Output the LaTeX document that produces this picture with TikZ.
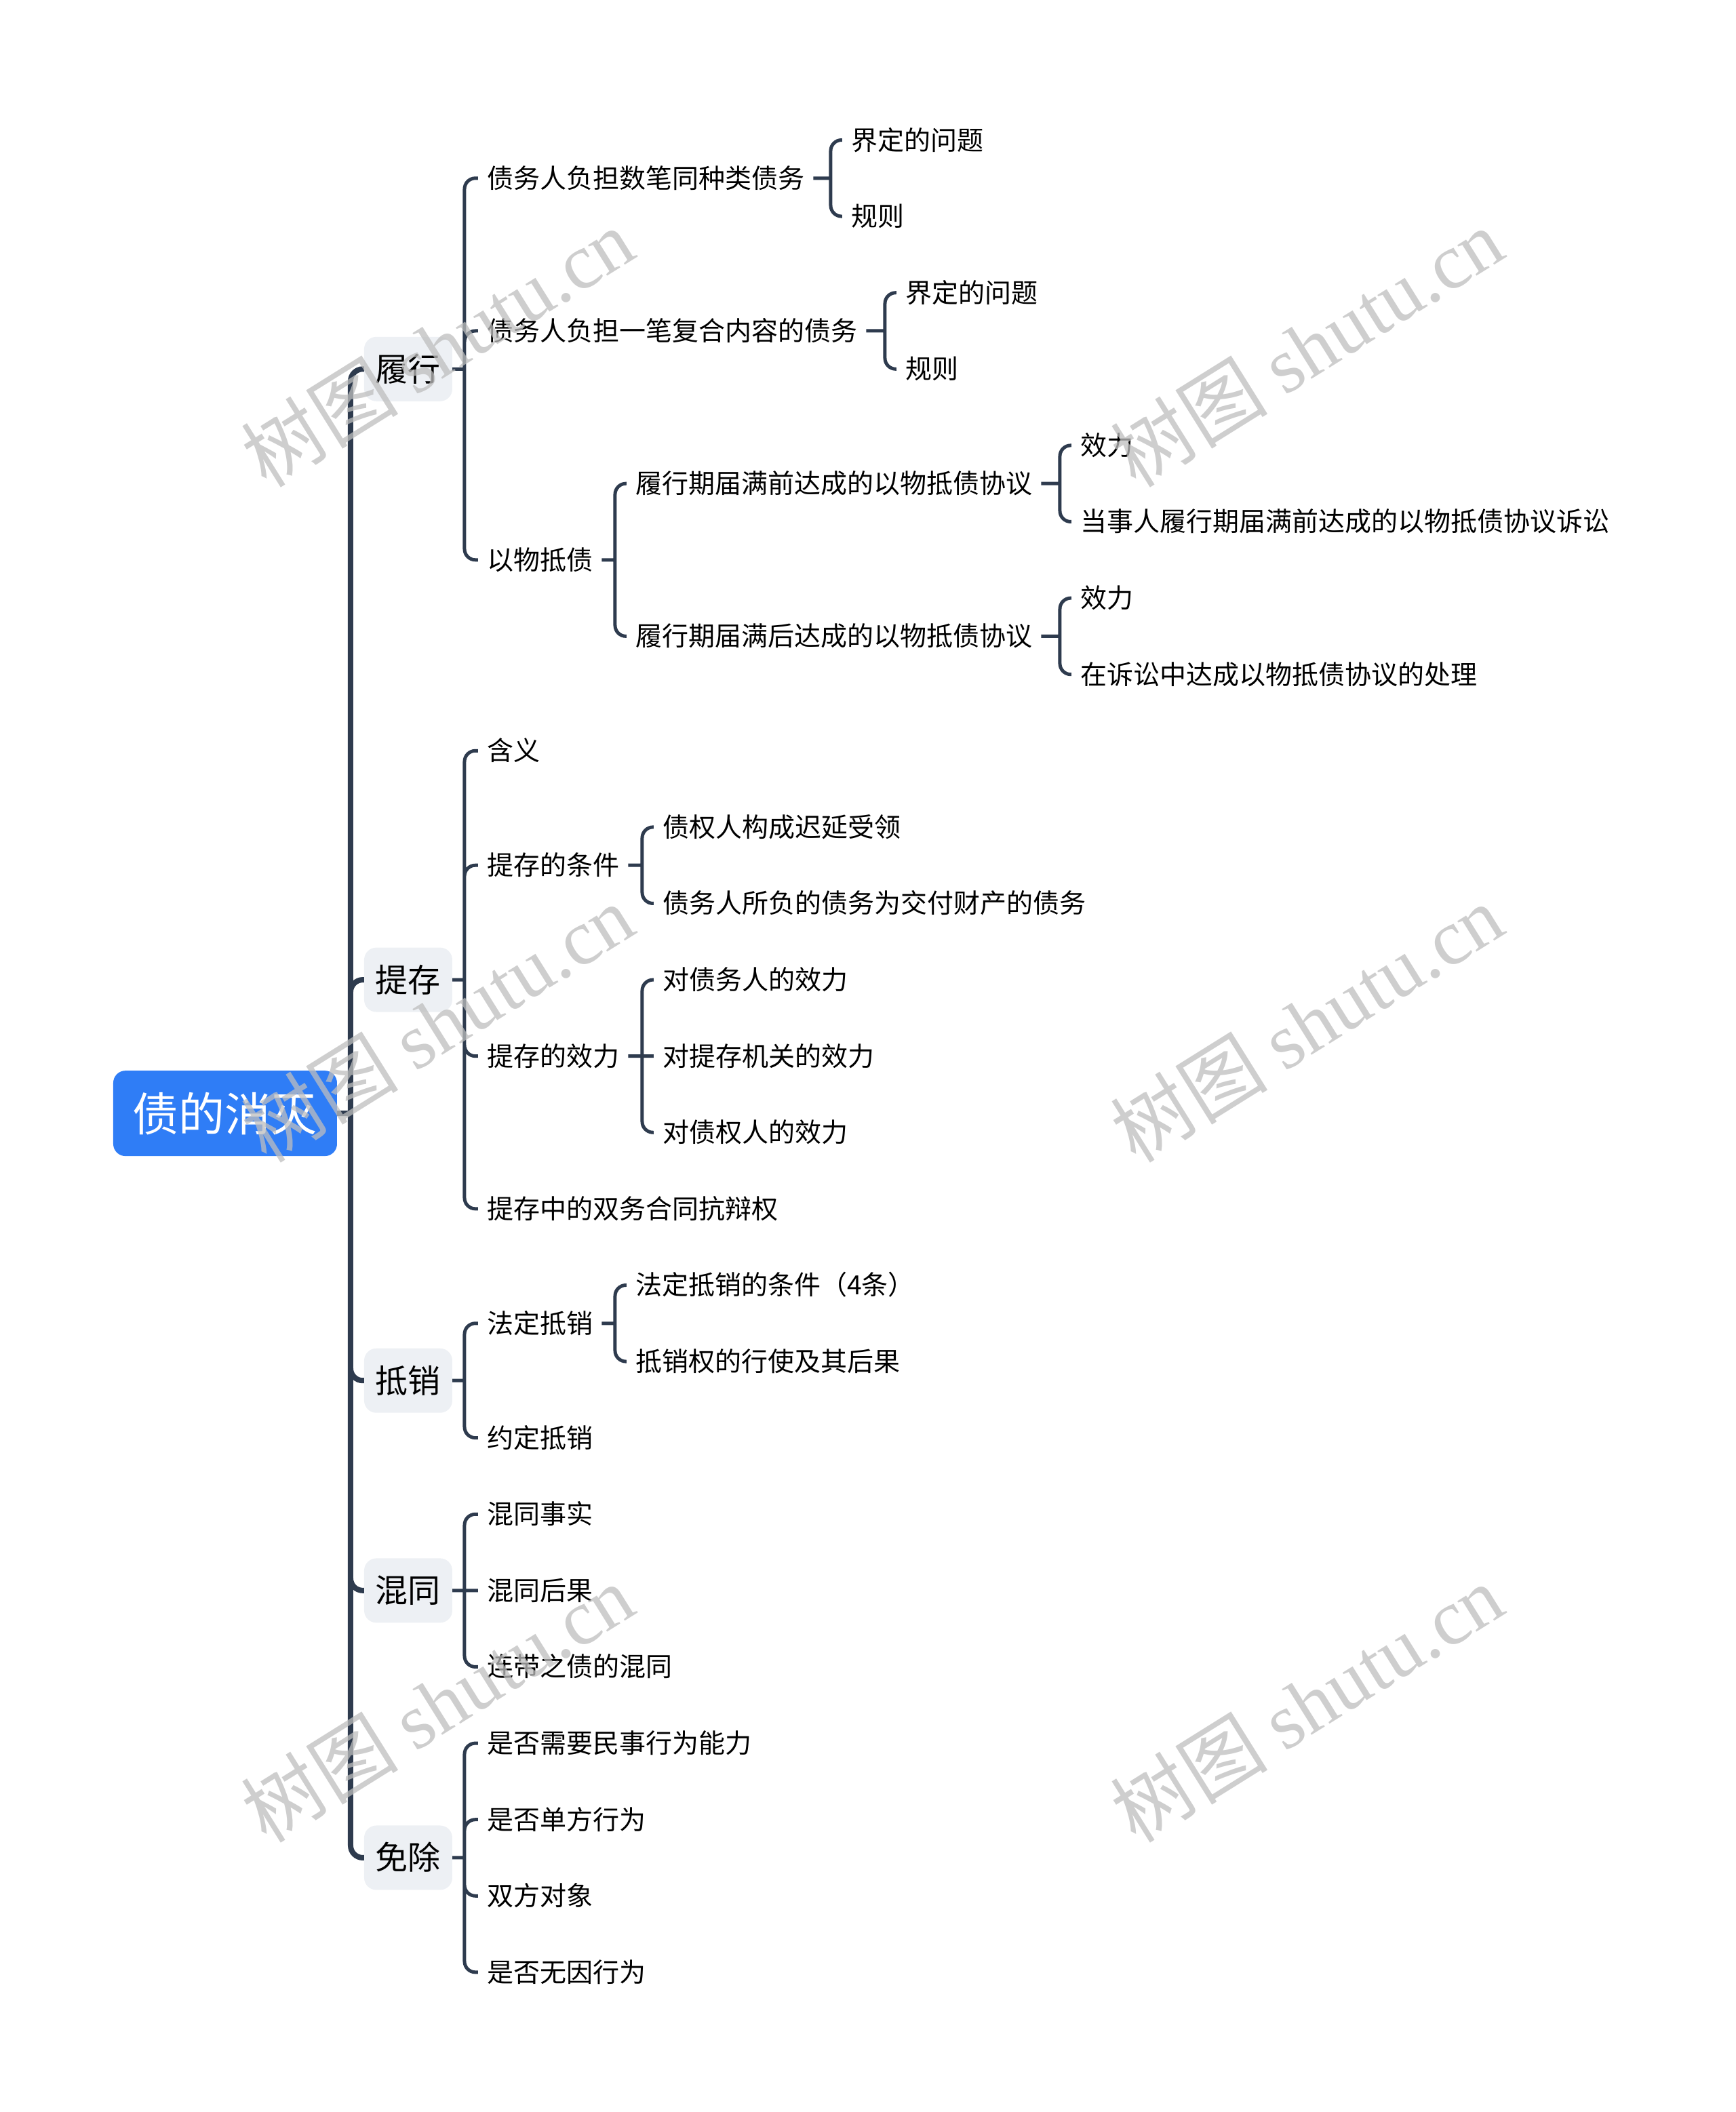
\documentclass[tikz,border=0pt]{standalone}
\usepackage{fontspec}
\setmainfont{Noto Sans CJK SC}
\newfontfamily\wmlatin{Liberation Serif}
\definecolor{rootblue}{HTML}{2F7DF6}
\definecolor{topicgrey}{HTML}{EDF0F4}
\definecolor{linecol}{HTML}{2E3B4E}
\definecolor{wmgrey}{RGB}{190,190,190}
\begin{document}
\begin{tikzpicture}[x=1pt,y=-112.6pt,
    root/.style={fill=rootblue, text=white, rounded corners=18pt, minimum width=330pt, minimum height=126pt, inner sep=0pt, text height=60pt, text depth=8pt, font=\fontsize{68}{68}\selectfont},
    topic/.style={fill=topicgrey, rounded corners=18pt, minimum width=130pt, minimum height=95pt, inner sep=0pt, text height=42pt, text depth=6pt, font=\fontsize{48}{48}\selectfont},
    item/.style={anchor=west, inner xsep=13pt, inner ysep=0pt, text height=34pt, text depth=5pt, font=\fontsize{39}{39}\selectfont},
    trunk/.style={draw=linecol, line width=8pt, rounded corners=18pt},
    branch/.style={draw=linecol, line width=5pt, rounded corners=16pt},
    wmark/.style={text=wmgrey, text opacity=0.75, rotate=32, font=\fontsize{116}{116}\selectfont}]
            \useasboundingbox (0,-1.834) rectangle (2560,25.831);
            \node[root] (root) at (332,12.75) {债的消灭};
            \node[topic] (lvxing) at (602,3) {履行};
            \node[topic] (ticun) at (602,11) {提存};
            \node[topic] (dixiao) at (602,16.25) {抵销};
            \node[topic] (huntong) at (602,19) {混同};
            \node[topic] (mianchu) at (602,22.5) {免除};

            \node[item] (lx1) at (705,0.5) {债务人负担数笔同种类债务};
            \node[item] (lx2) at (705,2.5) {债务人负担一笔复合内容的债务};
            \node[item] (lx3) at (705,5.5) {以物抵债};
            \node[item] (lx1a) at (1242,0) {界定的问题};
            \node[item] (lx1b) at (1242,1) {规则};
            \node[item] (lx2a) at (1322,2) {界定的问题};
            \node[item] (lx2b) at (1322,3) {规则};
            \node[item] (lx3a) at (924,4.5) {履行期届满前达成的以物抵债协议};
            \node[item] (lx3b) at (924,6.5) {履行期届满后达成的以物抵债协议};
            \node[item] (lx3a1) at (1580,4) {效力};
            \node[item] (lx3a2) at (1580,5) {当事人履行期届满前达成的以物抵债协议诉讼};
            \node[item] (lx3b1) at (1580,6) {效力};
            \node[item] (lx3b2) at (1580,7) {在诉讼中达成以物抵债协议的处理};

            \node[item] (tc1) at (705,8) {含义};
            \node[item] (tc2) at (705,9.5) {提存的条件};
            \node[item] (tc3) at (705,12) {提存的效力};
            \node[item] (tc4) at (705,14) {提存中的双务合同抗辩权};
            \node[item] (tc2a) at (964,9) {债权人构成迟延受领};
            \node[item] (tc2b) at (964,10) {债务人所负的债务为交付财产的债务};
            \node[item] (tc3a) at (964,11) {对债务人的效力};
            \node[item] (tc3b) at (964,12) {对提存机关的效力};
            \node[item] (tc3c) at (964,13) {对债权人的效力};

            \node[item] (dx1) at (705,15.5) {法定抵销};
            \node[item] (dx2) at (705,17) {约定抵销};
            \node[item] (dx1a) at (924,15) {法定抵销的条件（4条）};
            \node[item] (dx1b) at (924,16) {抵销权的行使及其后果};

            \node[item] (ht1) at (705,18) {混同事实};
            \node[item] (ht2) at (705,19) {混同后果};
            \node[item] (ht3) at (705,20) {连带之债的混同};

            \node[item] (mc1) at (705,21) {是否需要民事行为能力};
            \node[item] (mc2) at (705,22) {是否单方行为};
            \node[item] (mc3) at (705,23) {双方对象};
            \node[item] (mc4) at (705,24) {是否无因行为};

            \coordinate (kroot) at (517,12.75);
            \coordinate (klx) at (685,3);
            \coordinate (ktc) at (685,11);
            \coordinate (kdx) at (685,16.25);
            \coordinate (kht) at (685,19);
            \coordinate (kmc) at (685,22.5);
            \coordinate (klx1) at (1225,0.5);
            \coordinate (klx2) at (1305,2.5);
            \coordinate (klx3) at (907,5.5);
            \coordinate (klx3a) at (1563,4.5);
            \coordinate (klx3b) at (1563,6.5);
            \coordinate (ktc2) at (947,9.5);
            \coordinate (ktc3) at (947,12);
            \coordinate (kdx1) at (907,15.5);

            \draw[trunk] (root.east) -- (kroot) (kroot) |- (lvxing.west) (kroot) |- (ticun.west) (kroot) |- (dixiao.west) (kroot) |- (huntong.west) (kroot) |- (mianchu.west);

            \draw[branch] (lvxing.east) -- (klx) (klx) |- (lx1.west) (klx) |- (lx2.west) (klx) |- (lx3.west);
            \draw[branch] (lx1.east) -- (klx1) (klx1) |- (lx1a.west) (klx1) |- (lx1b.west);
            \draw[branch] (lx2.east) -- (klx2) (klx2) |- (lx2a.west) (klx2) |- (lx2b.west);
            \draw[branch] (lx3.east) -- (klx3) (klx3) |- (lx3a.west) (klx3) |- (lx3b.west);
            \draw[branch] (lx3a.east) -- (klx3a) (klx3a) |- (lx3a1.west) (klx3a) |- (lx3a2.west);
            \draw[branch] (lx3b.east) -- (klx3b) (klx3b) |- (lx3b1.west) (klx3b) |- (lx3b2.west);

            \draw[branch] (ticun.east) -- (ktc) (ktc) |- (tc1.west) (ktc) |- (tc2.west) (ktc) |- (tc3.west) (ktc) |- (tc4.west);
            \draw[branch] (tc2.east) -- (ktc2) (ktc2) |- (tc2a.west) (ktc2) |- (tc2b.west);
            \draw[branch] (tc3.east) -- (ktc3) (ktc3) |- (tc3a.west) (ktc3) -- (tc3b.west) (ktc3) |- (tc3c.west);

            \draw[branch] (dixiao.east) -- (kdx) (kdx) |- (dx1.west) (kdx) |- (dx2.west);
            \draw[branch] (dx1.east) -- (kdx1) (kdx1) |- (dx1a.west) (kdx1) |- (dx1b.west);

            \draw[branch] (huntong.east) -- (kht) (kht) |- (ht1.west) (kht) -- (ht2.west) (kht) |- (ht3.west);

            \draw[branch] (mianchu.east) -- (kmc) (kmc) |- (mc1.west) (kmc) |- (mc2.west) (kmc) |- (mc3.west) (kmc) |- (mc4.west);

            \node[wmark] (wm1) at (645,2.713) {树图 {\wmlatin shutu.cn}};
            \node[wmark] (wm2) at (1927,2.713) {树图 {\wmlatin shutu.cn}};
            \node[wmark] (wm3) at (645,11.567) {树图 {\wmlatin shutu.cn}};
            \node[wmark] (wm4) at (1927,11.567) {树图 {\wmlatin shutu.cn}};
            \node[wmark] (wm5) at (645,20.475) {树图 {\wmlatin shutu.cn}};
            \node[wmark] (wm6) at (1927,20.475) {树图 {\wmlatin shutu.cn}};
\end{tikzpicture}
\end{document}
